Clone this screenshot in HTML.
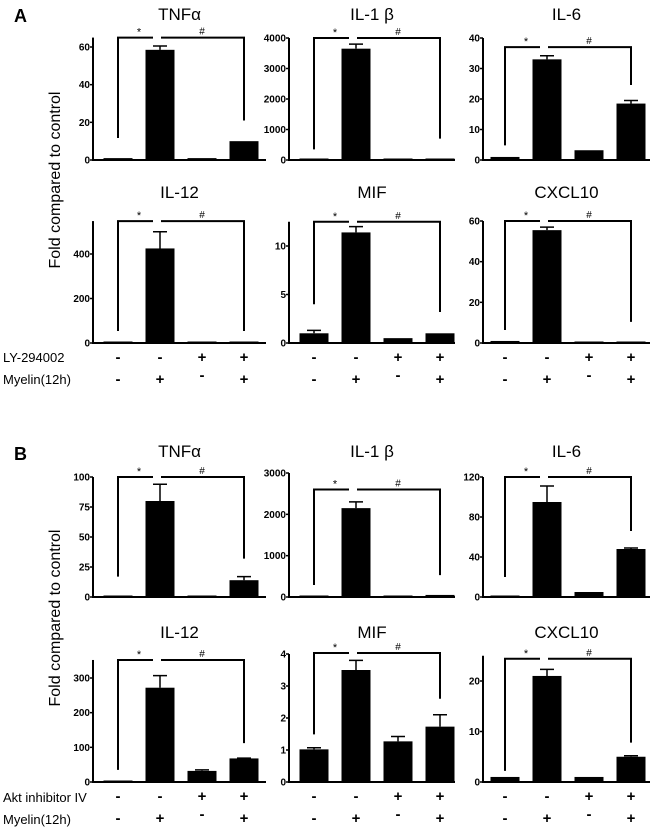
<!DOCTYPE html>
<html><head><meta charset="utf-8"><style>
body{margin:0;background:#fff}
svg{display:block;font-family:"Liberation Sans",sans-serif}
</style></head><body>
<svg id="fig" width="658" height="829" viewBox="0 0 658 829">
<text x="14" y="22" font-size="18" font-weight="bold">A</text>
<text x="14" y="460" font-size="18" font-weight="bold">B</text>
<text transform="translate(60,180) rotate(-90)" text-anchor="middle" font-size="16">Fold compared to control</text>
<text transform="translate(60,618) rotate(-90)" text-anchor="middle" font-size="16">Fold compared to control</text>
<text x="3" y="362" font-size="13">LY-294002</text>
<text x="3" y="384" font-size="13">Myelin(12h)</text>
<text x="3" y="802" font-size="13">Akt inhibitor IV</text>
<text x="3" y="824" font-size="13">Myelin(12h)</text>
</svg>
<script>
// ---- data ----
const titles = ["TNFα","IL-1 β","IL-6","IL-12","MIF","CXCL10","TNFα","IL-1 β","IL-6","IL-12","MIF","CXCL10"];
const values = [
 [1,58.5,1,10],[10,3650,15,20],[1,33,3.2,18.5],
 [0,425,3,5],[1,11.4,0.5,1],[1,55.5,0.3,0.5],
 [1,80,0.5,14],[10,2150,10,50],[1,95,5,48],
 [0,272,32,68],[1.02,3.5,1.27,1.73],[1,21,1,5]];
const errors = [
 [0,2,0,0],[0,150,0,0],[0,1.2,0,1],
 [0,75,0,0],[0.3,0.6,0,0],[0,1.5,0,0],
 [0,14,0,3],[0,150,0,0],[0,16,0,1],
 [0,35,3,1],[0.05,0.3,0.15,0.37],[0,1.3,0,0.2]];
const tickLabels = [
 [0,20,40,60],[0,1000,2000,3000,4000],[0,10,20,30,40],
 [0,200,400],[0,5,10],[0,20,40,60],
 [0,25,50,75,100],[0,1000,2000,3000],[0,40,80,120],
 [0,100,200,300],[0,1,2,3,4],[0,10,20]];
const axisMax = [65,4000,40, 548,12.5,60, 100,3000,120, 352,4,25];
const bracketTop = [65,4000,37, 548,12.5,60, 100,2600,120, 352,4.03,24.4];
const bracketLeft = [11.7,350,4.8, 54,4,6.4, 17,290,20, 35,1.49,2.2];
const bracketRight = [21,700,24.6, 54,3.2,10.4, 32,530,66, 112,2.6,7.8];
const treatment = ["-","-","+","+"];
const myelin = ["-","+","-","+"];
// ---- layout (pixels) ----
const colX = [93,289,483];
const colEnd = [266,455,650];
const firstOff = [25,25,22];
const rowBase = [160,343,597,782];
const rowTopPx = [[47,38,38],[254,246,221],[477,473,477],[678,654,681]];
const titleY = [20,198,457,638];
const svg = document.getElementById('fig');
const NS = "http://www.w3.org/2000/svg";
function mk(tag, attrs){const e=document.createElementNS(NS,tag);for(const k in attrs)e.setAttribute(k,attrs[k]);svg.appendChild(e);return e;}
for(let p=0;p<12;p++){
  const r=Math.floor(p/3), c=p%3;
  const x0=colX[c], x1=colEnd[c], base=rowBase[r];
  const tl=tickLabels[p], topTick=tl[tl.length-1];
  const ppu=(base-rowTopPx[r][c])/topTick;
  const y=v=>base-v*ppu;
  const bx=i=>x0+firstOff[c]+42*i;
  const bw=29;
  const t=mk('text',{x:(x0+x1)/2,y:titleY[r],'text-anchor':'middle','font-size':17});
  t.textContent=titles[p];
  
  
  const ya=mk('line',{x1:x0,x2:x0,y1:y(axisMax[p]),y2:base+1,stroke:'#000','stroke-width':2});
  
  
  const xa=mk('line',{x1:x0-1,x2:x1,y1:base,y2:base,stroke:'#000','stroke-width':2});
  
  
  tl.forEach(v=>{
    const tk=mk('line',{x1:x0-3,x2:x0,y1:y(v),y2:y(v),stroke:'#000','stroke-width':1.5});
    
    
    const lb=mk('text',{x:x0-3,y:y(v)+3.5,'text-anchor':'end','font-size':10,'font-weight':'bold'});
    lb.textContent=v;
    
    
  });
  values[p].forEach((v,i)=>{
    const cx=bx(i);
    const h=Math.max(v*ppu,1.5);
    const b=mk('rect',{x:cx-bw/2,y:base-h,width:bw,height:h,fill:'#000'});
    
    
    const e=errors[p][i];
    if(e>0){
      const ey=y(v+e);
      const el=mk('path',{d:`M${cx} ${base-h} V${ey} M${cx-7} ${ey} H${cx+7}`,stroke:'#000','stroke-width':1.5,fill:'none'});
      
      
    }
    if(r===1||r===3){
      const s1=mk('text',{x:cx,y:base+19,'text-anchor':'middle','font-size':15,'font-weight':'bold'});
      s1.textContent=treatment[i];
      
      
      const s2=mk('text',{x:cx,y:base+(myelin[i]==='-'&&i===2?37:41),'text-anchor':'middle','font-size':15,'font-weight':'bold'});
      s2.textContent=myelin[i];
      
      
    }
  });
  const ty=y(bracketTop[p]);
  const lx=bx(0), rx=bx(3), mx=bx(1);
  const br1=mk('path',{d:`M${lx} ${y(bracketLeft[p])} V${ty} H${mx-7}`,stroke:'#000','stroke-width':2,fill:'none'});
  
  
  const br2=mk('path',{d:`M${mx+1} ${ty} H${rx} V${y(bracketRight[p])}`,stroke:'#000','stroke-width':2,fill:'none'});
  
  
  const st=mk('text',{x:(lx+mx)/2,y:ty-2,'text-anchor':'middle','font-size':11});
  st.textContent='*';
  
  
  const hs=mk('text',{x:(mx+rx)/2,y:ty-3,'text-anchor':'middle','font-size':10});
  hs.textContent='#';
  
  
}
</script>
</body></html>
